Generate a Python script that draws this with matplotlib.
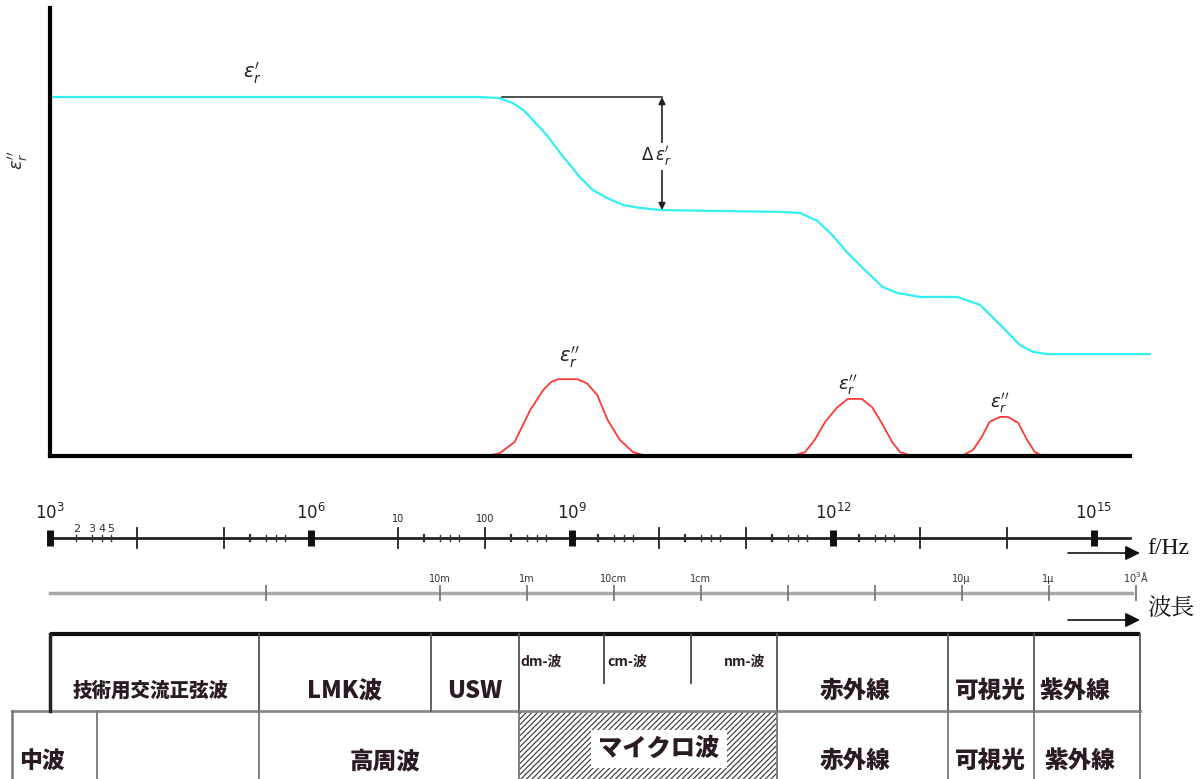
import matplotlib
matplotlib.use('Agg')
import matplotlib.pyplot as plt
from matplotlib.patches import Rectangle
import numpy as np

plt.rcParams['font.family'] = ['Liberation Sans', 'Noto Sans CJK JP', 'DejaVu Sans']
plt.rcParams['hatch.linewidth'] = 0.8

# real part of permittivity vs log10(f / Hz)
eps1_logf = [3.0, 7.71, 7.94, 8.17, 8.32, 8.44, 8.55, 8.71, 8.90, 9.09, 9.24, 9.40,
             9.59, 9.78, 10.03, 10.82, 11.39, 11.62, 11.82, 11.97, 12.16, 12.34,
             12.57, 12.74, 13.0, 13.43, 13.69, 13.89, 14.15, 14.30, 14.46, 15.64]
eps1_val = [10.0, 10.0, 10.0, 9.97, 9.83, 9.64, 9.36, 8.94, 8.33, 7.77, 7.41, 7.19,
            6.99, 6.91, 6.85, 6.82, 6.80, 6.77, 6.55, 6.21, 5.68, 5.24,
            4.71, 4.54, 4.43, 4.43, 4.21, 3.73, 3.09, 2.90, 2.84, 2.84]

# loss peaks (imaginary part)
peak1_logf = [8.02, 8.17, 8.34, 8.52, 8.67, 8.76, 8.84, 9.06, 9.17, 9.29, 9.41, 9.55, 9.70, 9.86]
peak1_val = [0.0, 0.08, 0.39, 1.28, 1.84, 2.06, 2.14, 2.14, 2.03, 1.70, 1.00, 0.45, 0.11, 0.0]
peak2_logf = [11.53, 11.68, 11.79, 11.91, 12.05, 12.17, 12.33, 12.45, 12.56, 12.68, 12.77, 12.91]
peak2_val = [0.0, 0.11, 0.45, 0.95, 1.36, 1.59, 1.59, 1.36, 0.92, 0.39, 0.11, 0.0]
peak3_logf = [13.48, 13.61, 13.71, 13.80, 13.92, 14.01, 14.13, 14.23, 14.32, 14.41]
peak3_val = [0.0, 0.17, 0.53, 0.95, 1.09, 1.09, 0.92, 0.45, 0.11, 0.0]

eps1_high = 10.0
eps1_step = 6.85

# frequency scale
decades = list(range(3, 16))
decade_labels = {3: '$\\mathregular{10^{3}}$', 6: '$\\mathregular{10^{6}}$', 7: '10', 8: '100',
                 9: '$\\mathregular{10^{9}}$', 12: '$\\mathregular{10^{12}}$',
                 15: '$\\mathregular{10^{15}}$'}
bold_decades = [3, 6, 9, 12, 15]
dotted_decades = [5, 7, 8, 9, 10, 11, 12]
sub_mult = [2, 3, 4, 5]

# wavelength scale (metres)
wavelengths = [1000, 10, 1, 0.1, 0.01, 1e-3, 1e-4, 1e-5, 1e-6, 1e-7]
wl_labels = ['', '10m', '1m', '10cm', '1cm', '', '', '10μ', '1μ', '$\\mathregular{10^{3}}$Å']
c_light = 3e8

# band table, edges in log10(f)
row1_edges = [3.0, 5.40, 7.38, 8.39, 11.36, 13.32, 14.31, 15.53]
row1_sub = [9.37, 10.37]
row1_names = ['技術用交流正弦波', 'LMK波', 'USW', '赤外線', '可視光', '紫外線']
row1_pos = [4.15, 6.39, 7.885, 12.253, 13.805, 14.782]
row1_size = [14, 17, 17, 17, 17, 17]
micro_names = ['dm-波', 'cm-波', 'nm-波']
micro_pos = [8.644, 9.632, 10.989]
row2_edges = [2.563, 3.54, 5.40, 8.39, 11.36, 13.32, 14.31, 15.53]
row2_names = ['中波', '高周波', 'マイクロ波', '赤外線', '可視光', '紫外線']
row2_pos = [2.908, 6.851, 10.0, 12.253, 13.805, 14.839]

W, H = 1200, 779
px_dec = 87.0
fig = plt.figure(figsize=(12, 7.79), dpi=100)

# background axes: x in log10(f), y in pixel rows
bg = fig.add_axes([0, 0, 1, 1])
bg.set_xlim(3 - 50 / px_dec, 3 + (W - 50) / px_dec)
bg.set_ylim(H, 0)
bg.axis('off')

ax = fig.add_axes([50 / W, (H - 456) / H, 1080 / W, 448 / H])
ax.set_xlim(3, 3 + 1080 / px_dec)
ax.set_ylim(0, 448 / 35.9)
ax.patch.set_alpha(0)
for s in ['top', 'right']:
    ax.spines[s].set_visible(False)
for s in ['left', 'bottom']:
    ax.spines[s].set_linewidth(3)
ax.set_xticks([])
ax.set_yticks([])

ax.plot(eps1_logf, eps1_val, color='#33f0f0', lw=1.6, clip_on=False)
for lx, ly in [(peak1_logf, peak1_val), (peak2_logf, peak2_val), (peak3_logf, peak3_val)]:
    ax.plot(lx, ly, color='#ff3838', lw=1.3)

ax.text(5.33, 10.67, "$\\varepsilon_r^{\\prime}$", fontsize=14, ha='center', va='center',
        math_fontfamily='dejavusans', color='#222222')
ax.text(8.97, 2.75, "$\\varepsilon_r^{\\prime\\prime}$", fontsize=14, ha='center', va='center',
        math_fontfamily='dejavusans', color='#222222')
ax.text(12.17, 1.98, "$\\varepsilon_r^{\\prime\\prime}$", fontsize=13, ha='center', va='center',
        math_fontfamily='dejavusans', color='#222222')
ax.text(13.92, 1.48, "$\\varepsilon_r^{\\prime\\prime}$", fontsize=13, ha='center', va='center',
        math_fontfamily='dejavusans', color='#222222')

# step height marker
ax.plot([8.195, 10.034], [eps1_high, eps1_high], color='#333333', lw=1.2)
ax.annotate('', xy=(10.034, eps1_step), xytext=(10.034, eps1_high),
            arrowprops=dict(arrowstyle='<|-|>', color='#222222', lw=1.2,
                            shrinkA=0, shrinkB=0, mutation_scale=10))
ax.text(9.97, 8.35, "$\\Delta\\,\\varepsilon_r^{\\prime}$", fontsize=12, ha='center', va='center',
        math_fontfamily='dejavusans', color='#222222',
        bbox=dict(facecolor='white', edgecolor='none', pad=1))

fig.text(18 / W, 1 - 160 / H, "$\\varepsilon_r^{\\prime\\prime}$", rotation=90, fontsize=13,
         ha='center', va='center', math_fontfamily='dejavusans', color='#333333')

# frequency axis
fy = 538
bg.plot([3, 3 + 1080 / px_dec], [fy, fy], color='#222222', lw=2)
for d in decades:
    if d in bold_decades:
        bg.plot([d, d], [fy - 8, fy + 8], color='#111111', lw=5, solid_capstyle='butt')
    else:
        bg.plot([d, d], [fy - 10, fy + 10], color='#222222', lw=1.3)
    if d in decade_labels:
        big = d in bold_decades
        bg.text(d, fy - 15 if big else fy - 14, decade_labels[d], ha='center', va='bottom',
                fontsize=12 if big else 7, family=['Liberation Sans Narrow', 'DejaVu Sans'],
                color='#222222')
for d in dotted_decades:
    for i, m in enumerate(sub_mult):
        xx = d + np.log10(m)
        bg.plot([xx, xx], [fy - 3, fy + 3], color='#333333', lw=1.6 if i == 0 else 1.0)
for m in sub_mult:
    xx = 3 + np.log10(m)
    bg.plot([xx, xx], [fy - 3, fy + 3], color='#333333', lw=1.0)
    bg.text(xx, fy - 4, str(m), ha='center', va='bottom', fontsize=8,
            family=['Liberation Sans Narrow', 'DejaVu Sans'], color='#333333')

# wavelength axis
wy = 593
bg.plot([3, 3 + 1082 / px_dec], [wy, wy], color='#a8a8a8', lw=2.5)
for wl, lab in zip(wavelengths, wl_labels):
    xx = np.log10(c_light / wl)
    bg.plot([xx, xx], [wy - 7, wy + 7], color='#777777', lw=1.3)
    if lab:
        bg.text(xx, wy - 9, lab, ha='center', va='bottom', fontsize=7,
                family=['Liberation Sans Narrow', 'DejaVu Sans'], color='#333333')

# direction arrows
for ay, lab, ty in [(553, 'f/Hz', 549), (620, '波長', 609)]:
    bg.annotate('', xy=(3 + 1090 / px_dec, ay), xytext=(3 + 1018 / px_dec, ay),
                arrowprops=dict(arrowstyle='-|>', color='#111111', lw=1.2,
                                mutation_scale=22, shrinkA=0, shrinkB=0))
    bg.text(3 + 1097 / px_dec, ty, lab, ha='left', va='center', fontsize=17,
            family=['Liberation Serif', 'Noto Serif CJK JP', 'Noto Sans CJK JP'], color='#111111')

# band table
ty0, ty1, ty2 = 634, 711, 779
tc = '#2b1b24'
bg.plot([row1_edges[0], row1_edges[-1]], [ty0, ty0], color='#111111', lw=3, solid_capstyle='butt')
bg.plot([row2_edges[0], row2_edges[-1]], [ty1, ty1], color='#8a8a8a', lw=2)
bg.plot([row1_edges[0], row1_edges[0]], [ty0, ty1], color='#222222', lw=2.5)
for e in row1_edges[1:]:
    bg.plot([e, e], [ty0, ty1], color='#555555', lw=1.3)
for e in row1_sub:
    bg.plot([e, e], [ty0, 683], color='#444444', lw=1.3)
for e in row2_edges:
    bg.plot([e, e], [ty1, ty2], color='#777777', lw=1.8 if e == row2_edges[0] else 1.3)

bg.add_patch(Rectangle((row2_edges[3], ty1), row2_edges[4] - row2_edges[3], ty2 - ty1,
                       fill=False, hatch='//////', edgecolor='#333333', lw=0))

for name, xx, fs in zip(row1_names, row1_pos, row1_size):
    bg.text(xx, 691, name, ha='center', va='center', fontsize=fs, fontweight='heavy',
            family=['Noto Sans CJK JP'], color=tc)
for name, xx in zip(micro_names, micro_pos):
    bg.text(xx, 662, name, ha='center', va='center', fontsize=10, fontweight='bold',
            family=['Noto Sans CJK JP'], color=tc)
for name, xx in zip(row2_names, row2_pos):
    kw = {}
    yy = 761
    fs = 17
    if name == 'マイクロ波':
        kw['bbox'] = dict(facecolor='white', edgecolor='none', pad=5)
        yy = 749
        fs = 17.5
    elif name == '中波':
        fs = 16.5
    bg.text(xx, yy, name, ha='center', va='center', fontsize=fs, fontweight='heavy',
            family=['Noto Sans CJK JP'], color=tc, **kw)

fig.savefig('out.png', dpi=100)
